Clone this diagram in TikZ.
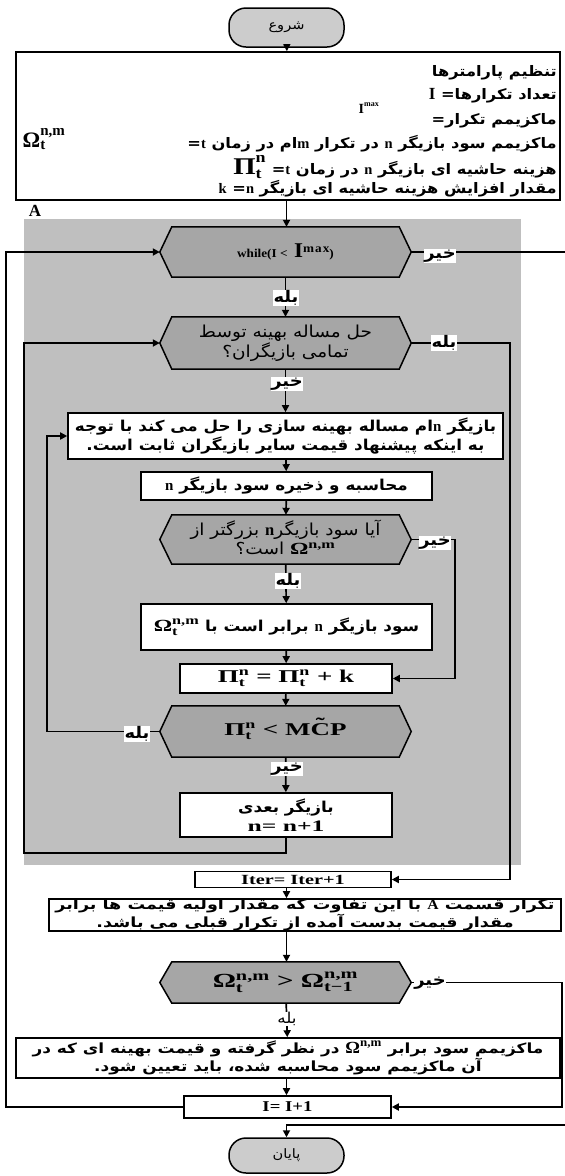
\documentclass[tikz,border=0pt]{standalone}
\usepackage{fontspec}
\usepackage{graphicx}
\setmainfont{Liberation Serif}
\newfontfamily\fa[Script=Arabic,FakeStretch=1.12]{DejaVu Sans}
\newfontfamily\lsA[FakeStretch=1.2]{Liberation Serif}
\newfontfamily\lsB[FakeStretch=1.35]{Liberation Serif}
\usetikzlibrary{arrows.meta,backgrounds}
\TeXXeTstate=1
\newcommand\lt[1]{{\rmfamily\bfseries #1}}
\newcommand\FA[1]{{\fa\beginR #1\endR}}
\newcommand\SX[2]{\scalebox{#1}[1]{#2}}
% #1 family, #2 base size, #3 script size, #4 base, #5 sup, #6 sub
\newcommand\SSf[6]{\hbox{$\hbox{#1\bfseries\fontsize{#2}{#2}\selectfont #4}^{\hbox{#1\bfseries\fontsize{#3}{#3}\selectfont #5}}_{\hbox{#1\bfseries\fontsize{#3}{#3}\selectfont #6}}$}}
\newcommand\SSb[5]{\SSf{\rmfamily}{#1}{#2}{#3}{#4}{#5}}
\newcommand\Ctil{{\ooalign{C\cr\hidewidth\raisebox{0.28em}{˜}\hidewidth\cr}}}
\begin{document}
\begin{tikzpicture}[x=1pt,y=-1pt,
  arr/.style={line width=1.7pt,-{Triangle[length=7pt,width=7pt]}},
  box/.style={draw,line width=1.6pt,fill=white,inner sep=0pt,align=center,
    font=\fa\bfseries\fontsize{15}{19}\selectfont},
  term/.style={draw,line width=1.5pt,fill=black!20,rounded corners=17pt,inner sep=0pt,
    font=\fa\fontsize{13}{13}\selectfont},
  hexn/.style={minimum width=251pt,minimum height=#1,inner sep=0pt,align=center,
    font=\fa\fontsize{16.5}{19.5}\selectfont},
  hexs/.style={draw,line width=1.5pt,fill=black!35},
  ptext/.style={inner sep=0pt,anchor=east,font=\fa\bfseries\fontsize{14.5}{15}\selectfont},
  lab/.style={fill=white,inner sep=0.5pt,font=\fa\bfseries\fontsize{16}{16}\selectfont}]
\useasboundingbox (0,0) rectangle (565,1176);

% nodes
\node[term,minimum width=115pt,minimum height=39pt] (start) at (286.5,27.5) {\FA{شروع}};
\node[box,minimum width=544pt,minimum height=148pt] (par) at (288,126) {};
\node[ptext] (p1) at (557,73) {\FA{تنظیم پارامترها}};
\node[ptext] (p2) at (557,96) {\FA{تعداد تکرارها= \lt{\fontsize{17}{17}\selectfont I}}};
\node[ptext] (p3) at (557,121) {\FA{ماکزیمم تکرار=}};
\node[inner sep=0pt] (pImax) at (369,109) {\SSb{14}{8}{I}{max}{}};
\node[ptext] (p4) at (557,144) {\FA{ماکزیمم سود بازیگر \lt{n} در تکرار \lt{m}ام در زمان \lt{t}=}};
\node[inner sep=0pt] (pOm) at (44,139) {\SSb{22}{15}{Ω}{n,m}{t}};
\node[ptext] (p5) at (557,167) {\FA{هزینه حاشیه ای بازیگر \lt{n} در زمان \lt{t}= \SSf{\lsA}{24}{15}{Π}{n}{t}}};
\node[ptext] (p6) at (557,189) {\FA{مقدار افزایش هزینه حاشیه ای بازیگر \lt{n}= \lt{k}}};
\node[inner sep=0pt] (Alab) at (35,211) {\lt{\fontsize{17}{17}\selectfont A}};

\node[hexn=50pt] (w) at (285.5,252) {\SX{1.1}{\lt{\fontsize{12}{12}\selectfont while(I <} \lt{\fontsize{21}{21}\selectfont I}\raisebox{5pt}{\lt{\fontsize{12}{12}\selectfont m\kern1pt a\kern1pt x}}\lt{\fontsize{12}{12}\selectfont )}}};
\node[hexn=52pt] (sol) at (285.5,343) {\FA{حل مساله بهینه توسط}\\\FA{تمامی بازیگران؟}};
\node[box,minimum width=435pt,minimum height=46pt] (b1) at (285.5,436) {\FA{بازیگر \lt{n}ام مساله بهینه سازی را حل می کند با توجه}\\\FA{به اینکه پیشنهاد قیمت سایر بازیگران ثابت است.}};
\node[box,minimum width=291pt,minimum height=28pt] (b2) at (286.5,486) {\FA{محاسبه و ذخیره سود بازیگر \lt{n}}};
\node[hexn=49pt] (h3) at (285.5,539.5) {\FA{آیا سود بازیگر\lt{n} بزرگتر از}\\\FA{\SSf{\lsB}{17}{12}{Ω}{n,m}{} است؟}};
\node[box,minimum width=291pt,minimum height=46pt] (b3) at (286.5,627) {\FA{سود بازیگر \lt{n} برابر است با \SSf{\lsB}{17}{12}{Ω}{n,m}{t}}};
\node[box,minimum width=212pt,minimum height=29pt,font=\rmfamily\bfseries\fontsize{18}{18}\selectfont] (pb) at (286,678.5) {\SX{1.5}{\SSb{18}{12}{Π}{n}{t} = \SSb{18}{12}{Π}{n}{t} + k}};
\node[hexn=51pt,font=\rmfamily\bfseries\fontsize{18}{18}\selectfont] (mc) at (285.5,731.5) {\SX{1.5}{\SSb{18}{12}{Π}{n}{t} < M\Ctil P}};
\node[box,minimum width=212pt,minimum height=44pt] (nx) at (286,815) {\FA{بازیگر بعدی}\\\SX{1.6}{\lt{\fontsize{16}{16}\selectfont n= n+1}}};
\node[box,minimum width=196pt,minimum height=16pt,font=\rmfamily\bfseries\fontsize{14}{14}\selectfont] (it) at (293,879.5) {\SX{1.45}{Iter= Iter+1}};
\node[box,minimum width=512pt,minimum height=32pt,font=\fa\bfseries\fontsize{14}{14.5}\selectfont] (tk) at (305,915) {\SX{1.12}{\FA{تکرار قسمت \lt{A} با این تفاوت که مقدار اولیه قیمت ها برابر}}\\\SX{1.12}{\FA{مقدار قیمت بدست آمده از تکرار قبلی می باشد.}}};
\node[hexn=41pt,font=\rmfamily\bfseries\fontsize{20}{20}\selectfont] (oh) at (285.5,982.5) {\SX{1.45}{\SSb{20}{14}{Ω}{n,m}{t} > \SSb{20}{14}{Ω}{n,m}{t−1}}};
\node[box,minimum width=544pt,minimum height=40pt,font=\fa\bfseries\fontsize{14}{16}\selectfont] (fb) at (288,1058) {\SX{1.08}{\FA{ماکزیمم سود برابر \SSb{17}{12}{Ω}{n,m}{} در نظر گرفته و قیمت بهینه ای که در}}\\\SX{1.08}{\FA{آن ماکزیمم سود محاسبه شده، باید تعیین شود.}}};
\node[box,minimum width=207pt,minimum height=22pt,font=\rmfamily\bfseries\fontsize{15}{15}\selectfont] (ib) at (287.5,1107) {\SX{1.25}{I= I+1}};
\node[term,minimum width=115pt,minimum height=35pt] (en) at (286.5,1155.5) {\FA{پایان}};

% helper coordinates
\coordinate (cR1) at (568,252);
\coordinate (cR2) at (568,1125);
\coordinate (cB) at (286.5,1125);
\coordinate (cL1) at (6,1107);
\coordinate (cL2) at (6,252);
\coordinate (r1) at (510,343);
\coordinate (r2) at (510,879.5);
\coordinate (l1) at (286,853);
\coordinate (l2) at (24,853);
\coordinate (l3) at (24,343);
\coordinate (h1) at (455,539.5);
\coordinate (h2) at (455,678.5);
\coordinate (m1) at (47,731.5);
\coordinate (m2) at (47,436);
\coordinate (o1) at (562,982.5);
\coordinate (o2) at (562,1107);
\coordinate (ax) at (286.5,0);

% background: gray area and hexagons
\begin{scope}[on background layer]
\fill[black!25] (24,219) rectangle (521,865);
\foreach \h in {w,sol,h3,mc,oh}{
  \path[hexs] (\h.west) -- ([xshift=12pt]\h.north west) -- ([xshift=-12pt]\h.north east)
    -- (\h.east) -- ([xshift=-12pt]\h.south east) -- ([xshift=12pt]\h.south west) -- cycle;}
\end{scope}

% connectors
\draw[arr] (start) -- (par);
\draw[arr] (par.south -| ax) -- (w.north -| ax);
\draw[arr] (w) -- (sol);
\draw[arr] (sol) -- (b1);
\draw[arr] (b1) -- (b2);
\draw[arr] (b2) -- (h3);
\draw[arr] (h3) -- (b3);
\draw[arr] (b3) -- (pb);
\draw[arr] (pb) -- (mc);
\draw[arr] (mc) -- (nx);
\draw[arr] (nx.south) -- (l1) -- (l2) -- (l3) -- (sol.west);
\draw[arr] (w.east) -- (cR1) -- (cR2) -- (cB) -- (en.north);
\draw[arr] (ib.west) -- (cL1) -- (cL2) -- (w.west);
\draw[arr] (sol.east) -- (r1) -- (r2) -- (it.east);
\draw[arr] (h3.east) -- (h1) -- (h2) -- (pb.east);
\draw[arr] (mc.west) -- (m1) -- (m2) -- (b1.west);
\draw[arr] (it.south -| ax) -- (tk.north -| ax);
\draw[arr] (tk.south -| ax) -- (oh.north -| ax);
\draw[arr] (oh) -- (fb);
\draw[arr] (fb.south -| ax) -- (ib.north -| ax);
\draw[arr] (oh.east) -- (o1) -- (o2) -- (ib.east);

% labels
\node[lab] (y1) at (440,256) {\FA{خیر}};
\node[lab] (y2) at (286,298) {\FA{بله}};
\node[lab] (y3) at (444,343) {\FA{بله}};
\node[lab] (y4) at (287,384) {\FA{خیر}};
\node[lab] (y5) at (435,543) {\FA{خیر}};
\node[lab] (y6) at (288,581) {\FA{بله}};
\node[lab] (y7) at (137,734) {\FA{بله}};
\node[lab] (y8) at (287,769) {\FA{خیر}};
\node[lab] (y9) at (430,983) {\FA{خیر}};
\node[lab,font=\fa\fontsize{15}{15}\selectfont] (y10) at (287,1019) {\FA{بله}};
\end{tikzpicture}
\end{document}
